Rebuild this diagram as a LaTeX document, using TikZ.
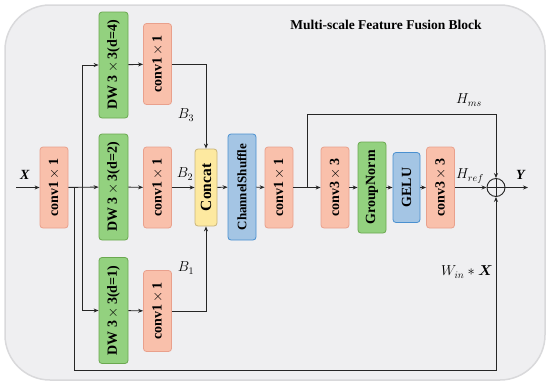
\documentclass[tikz,border=0pt]{standalone}
\usepackage{fontspec}
\setmainfont{Liberation Serif}
\usepackage{amsmath}
\usepackage{graphicx}
\usepackage{tikz}
\usetikzlibrary{arrows.meta,positioning,calc}
\definecolor{convfill}{HTML}{F9C0AB}
\definecolor{convline}{HTML}{E9A08C}
\definecolor{dwfill}{HTML}{93D17F}
\definecolor{dwline}{HTML}{6AA84F}
\definecolor{catfill}{HTML}{FDE9A0}
\definecolor{catline}{HTML}{C9B47B}
\definecolor{normfill}{HTML}{A4C5E4}
\definecolor{normline}{HTML}{4A90D0}
\definecolor{bgfill}{HTML}{EFEFF1}
\definecolor{bgline}{HTML}{D9D9DB}
\definecolor{wire}{HTML}{262626}
\newcommand{\vlabel}[1]{\rotatebox{90}{#1}}

\begin{document}
\begin{tikzpicture}[x=1pt, y=-1pt,
  >={Stealth[length=5pt,width=4pt]},
  wire/.style={draw=wire, line width=0.9pt},
  blk/.style={draw, rounded corners=3pt, line width=0.8pt, inner sep=0pt,
    font=\bfseries\fontsize{14}{14}\selectfont},
  convblk/.style={blk, fill=convfill, draw=convline, minimum width=28pt, minimum height=81pt},
  dwblk/.style={blk, fill=dwfill, draw=dwline, minimum width=29pt, minimum height=106pt},
  normblk/.style={blk, fill=normfill, draw=normline, minimum width=28pt},
  lbl/.style={font=\fontsize{14}{14}\selectfont, inner sep=1pt}]
  \useasboundingbox (0,0) rectangle (550,386);
  \draw[fill=bgfill, draw=bgline, line width=1.5pt, rounded corners=45pt] (5,5) rectangle (545,380);
  \node[font=\bfseries\fontsize{13.5}{13.5}\selectfont] (title) at (386,25) {Multi-scale Feature Fusion Block};

  % input conv and the three dilated branches
  \node[convblk] (C0) at (54,187.5) {\vlabel{conv1\,$\times$\,1}};
  \node[dwblk] (DW4) at (113.5,65) {\vlabel{DW 3\,$\times$\,3(d=4)}};
  \node[dwblk] (DW2) at (113.5,187) {\vlabel{DW 3\,$\times$\,3(d=2)}};
  \node[dwblk] (DW1) at (113.5,310.5) {\vlabel{DW 3\,$\times$\,3(d=1)}};
  \node[convblk] (C3) at (157.5,64) {\vlabel{conv1\,$\times$\,1}};
  \node[convblk] (C2) at (157.5,187.5) {\vlabel{conv1\,$\times$\,1}};
  \node[convblk] (C1) at (157.5,311) {\vlabel{conv1\,$\times$\,1}};
  \node[blk, fill=catfill, draw=catline, minimum width=22pt, minimum height=77pt,
    font=\bfseries\fontsize{15.5}{15.5}\selectfont] (cat) at (206,187.5) {\vlabel{Concat}};
  \node[normblk, minimum height=106pt, font=\bfseries\fontsize{13}{13}\selectfont] (shuf) at (242,187) {\vlabel{ChannelShuffle}};
  \node[convblk] (C4) at (279,187.5) {\vlabel{conv1\,$\times$\,1}};

  % refinement path
  \node[convblk] (R1) at (335,187.5) {\vlabel{conv3\,$\times$\,3}};
  \node[blk, fill=dwfill, draw=dwline, minimum width=28pt, minimum height=91pt] (gn) at (372,187.5) {\vlabel{GroupNorm}};
  \node[normblk, minimum width=27pt, minimum height=70pt] (gelu) at (406.5,187.5) {\vlabel{GELU}};
  \node[convblk] (R2) at (440.5,187.5) {\vlabel{conv3\,$\times$\,3}};
  \node[draw=wire, line width=0.9pt, circle, minimum size=18pt, inner sep=0pt] (sum) at (496,187.5) {};
  \draw[wire] (sum.north) -- (sum.south) (sum.west) -- (sum.east);

  \coordinate (xin) at (16,187.5);
  \coordinate (split) at (82.5,187.5);
  \coordinate (skip) at (74,187.5);
  \coordinate (skipend) at (74,370);
  \coordinate (top3) at (206,64);
  \coordinate (bot1) at (206,311);
  \coordinate (hms) at (307,187.5);
  \coordinate (hmstop) at (307,114);
  \coordinate (yout) at (528,187.5);

  \draw[wire, ->] (xin) -- (C0);
  \draw[wire, ->] (C0) -- (DW2);
  \draw[wire, ->] (split) |- (DW4);
  \draw[wire, ->] (split) |- (DW1);
  \draw[wire, ->] (skip) -- (skipend) -| (sum.south);
  \draw[wire, ->] (DW4) -- (C3);
  \draw[wire, ->] (DW2) -- (C2);
  \draw[wire, ->] (DW1) -- (C1);
  \draw[wire, ->] (C3.east) -- (top3) -- (cat.north);
  \draw[wire, ->] (C2) -- (cat);
  \draw[wire, ->] (C1.east) -- (bot1) -- (cat.south);
  \draw[wire, ->] (cat) -- (shuf);
  \draw[wire, ->] (shuf) -- (C4);
  \draw[wire, ->] (C4) -- (R1);
  \draw[wire, ->] (R1) -- (gn);
  \draw[wire, ->] (gn) -- (gelu);
  \draw[wire, ->] (gelu) -- (R2);
  \draw[wire, ->] (R2) -- (sum);
  \draw[wire, ->] (hms) -- (hmstop) -| (sum.north);
  \draw[wire, ->] (sum) -- (yout);

  % labels
  \node[lbl] (lx) at (25,175) {\textbf{\textit{X}}};
  \node[lbl] (ly) at (521,175) {\textbf{\textit{Y}}};
  \node[lbl] (lb3) at (186,115) {$B_3$};
  \node[lbl] (lb2) at (185,174) {$B_2$};
  \node[lbl] (lb1) at (186,268) {$B_1$};
  \node[lbl] (lref) at (470,176) {$H_{ref}$};
  \node[lbl] (lms) at (469,100) {$H_{ms}$};
  \node[lbl] (lw) at (467,272) {$W_{in} * \boldsymbol{X}$};
\end{tikzpicture}
\end{document}
